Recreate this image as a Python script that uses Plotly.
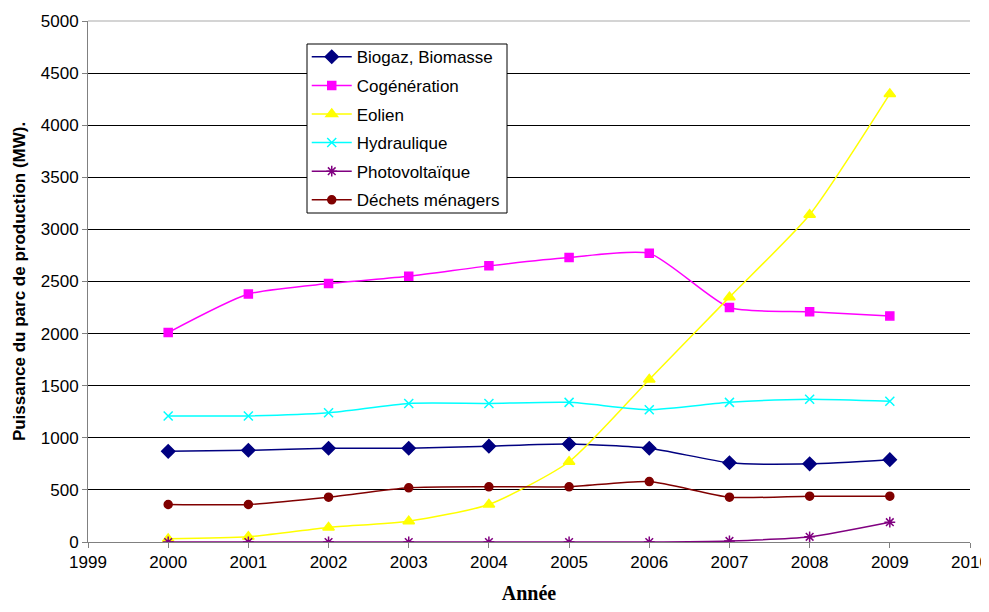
import plotly.graph_objects as go

years = [2000, 2001, 2002, 2003, 2004, 2005, 2006, 2007, 2008, 2009]
biogaz = [870, 880, 900, 900, 920, 940, 900, 760, 750, 790]
cogeneration = [2010, 2380, 2480, 2550, 2650, 2730, 2770, 2250, 2210, 2170]
eolien = [30, 50, 140, 200, 360, 770, 1560, 2350, 3140, 4300]
hydraulique = [1210, 1210, 1240, 1330, 1330, 1340, 1270, 1340, 1370, 1350]
photovoltaique = [0, 0, 0, 0, 0, 0, 0, 10, 50, 190]
dechets = [360, 360, 430, 520, 530, 530, 580, 430, 440, 440]

series = [
    ("Biogaz, Biomasse", biogaz, "#000080", "diamond", 10),
    ("Cogénération", cogeneration, "#FF00FF", "square", 8),
    ("Eolien", eolien, "#FFFF00", "triangle-up", 10),
    ("Hydraulique", hydraulique, "#00FFFF", "x-thin-open", 9),
    ("Photovoltaïque", photovoltaique, "#800080", "asterisk-open", 9),
    ("Déchets ménagers", dechets, "#800000", "circle", 8),
]

fig = go.Figure()
for i, (name, vals, color, sym, size) in enumerate(series):
    fig.add_trace(go.Scatter(
        x=years, y=vals, name=name, mode="lines+markers", legendgroup=f"g{i}",
        line=dict(color=color, width=1.5, shape="spline", smoothing=0.6),
        marker=dict(symbol=sym, size=size, color=color,
                    line=dict(color=color, width=1.5)),
    ))

# light top border of the plot area
fig.add_shape(type="line", xref="paper", yref="paper", x0=0, x1=1, y0=1, y1=1,
              line=dict(color="#D4D4D4", width=2), layer="above")

# legend frame
fig.add_shape(type="rect", xref="paper", yref="paper",
              x0=(307 - 88) / 882, x1=(507 - 88) / 882,
              y0=(542 - 213) / 521, y1=(542 - 44) / 521,
              line=dict(color="black", width=1), fillcolor="white", layer="above")

fig.update_layout(
    width=981, height=596,
    margin=dict(l=80, r=19, t=13, b=62),
    paper_bgcolor="white", plot_bgcolor="white",
    font=dict(family="Liberation Sans, Arial", size=17, color="black"),
    showlegend=True,
    legend=dict(
        x=0.248, y=0.965, xanchor="left", yanchor="top",
        borderwidth=0, bgcolor="rgba(0,0,0,0)",
        font=dict(size=17, family="Liberation Sans, Arial"),
        itemwidth=40, tracegroupgap=3.5,
    ),
    xaxis=dict(
        range=[1999, 2010], tickmode="linear", tick0=1999, dtick=1,
        showgrid=False, showline=True, linecolor="#808080", linewidth=1,
        ticks="outside", ticklen=5, tickcolor="#808080", automargin=False,
        title=dict(text="<b>Année</b>", font=dict(family="Liberation Serif, Times New Roman", size=20), standoff=20),
        zeroline=False,
    ),
    yaxis=dict(
        range=[0, 5000], tickmode="linear", tick0=0, dtick=500,
        showgrid=True, gridcolor="black", gridwidth=1,
        showline=True, linecolor="#808080", linewidth=1,
        ticks="outside", ticklen=5, tickcolor="#808080", automargin=False,
        title=dict(text="<b>Puissance du parc de production (MW).</b>", font=dict(size=17), standoff=10),
        zeroline=False,
    ),
)

fig.write_html("out.html")
